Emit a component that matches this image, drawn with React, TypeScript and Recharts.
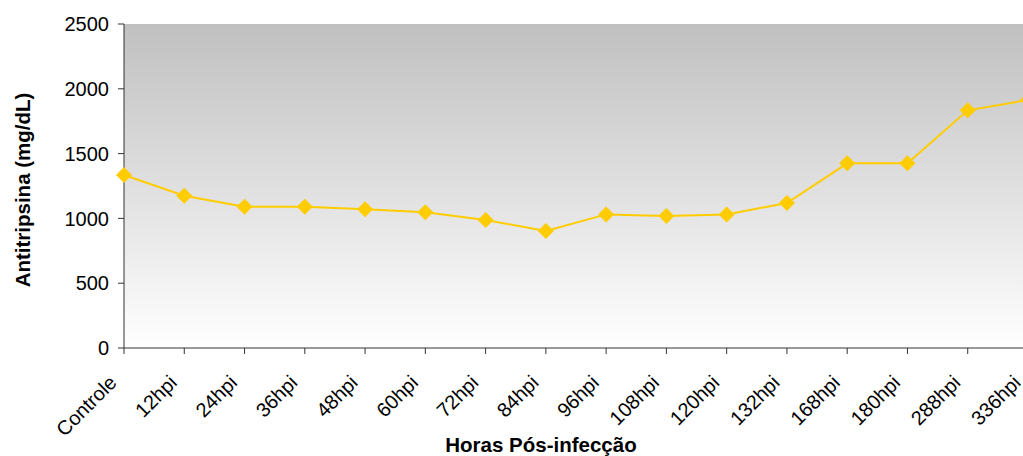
import React from 'react'
import { LineChart, Line, XAxis, YAxis, CartesianGrid } from 'recharts'

const categories = [
  'Controle', '12hpi', '24hpi', '36hpi', '48hpi', '60hpi', '72hpi', '84hpi',
  '96hpi', '108hpi', '120hpi', '132hpi', '168hpi', '180hpi', '288hpi', '336hpi',
]
const antitripsina = [
  1335, 1175, 1090, 1090, 1070, 1047, 988, 903,
  1031, 1019, 1031, 1119, 1425, 1425, 1834, 1914,
]
const yTicks = [0, 500, 1000, 1500, 2000, 2500]

const data = categories.map((c, i) => ({ name: c, value: antitripsina[i] }))

const FONT = '"Liberation Sans", Arial, sans-serif'

function Diamond(props: any) {
  const { cx, cy } = props
  if (cx == null || cy == null) return null
  const r = 8
  return (
    <polygon
      points={`${cx},${cy - r} ${cx + r},${cy} ${cx},${cy + r} ${cx - r},${cy}`}
      fill="#FFCC00"
      stroke="none"
    />
  )
}

function XTick(props: any) {
  const { x, y, payload } = props
  const ax = x - 11
  const ay = y + 23
  return (
    <text
      x={ax}
      y={ay}
      transform={`rotate(-45, ${ax}, ${ay})`}
      textAnchor="end"
      dominantBaseline="central"
      fontSize={20}
      fontFamily={FONT}
      fill="#000"
    >
      {payload.value}
    </text>
  )
}

function YTitle(props: any) {
  const vb = props.viewBox
  const x = vb.x + 22
  const y = vb.y + vb.height / 2 + 4
  return (
    <text
      x={x}
      y={y}
      transform={`rotate(-90, ${x}, ${y})`}
      textAnchor="middle"
      dominantBaseline="central"
      fontSize={20.5}
      fontWeight="bold"
      fontFamily={FONT}
      fill="#000"
    >
      Antitripsina (mg/dL)
    </text>
  )
}

function XTitle(props: any) {
  const vb = props.viewBox
  const x = vb.x + vb.width / 2 - 35
  const y = vb.y + vb.height - 12
  return (
    <text
      x={x}
      y={y}
      textAnchor="middle"
      dominantBaseline="central"
      fontSize={20.5}
      fontWeight="bold"
      fontFamily={FONT}
      fill="#000"
    >
      Horas Pós-infecção
    </text>
  )
}

export default function App() {
  return (
    <div style={{ position: 'absolute', left: 0, top: 0, width: 1023, height: 456, background: '#fff', overflow: 'hidden' }}>
      <LineChart width={1023} height={456} data={data} margin={{ top: 24, right: -5, left: 0, bottom: 0 }}>
        <defs>
          <linearGradient id="plotBg" x1="0" y1="0" x2="0" y2="1">
            <stop offset="0%" stopColor="#c0c0c0" />
            <stop offset="100%" stopColor="#ffffff" />
          </linearGradient>
        </defs>
        <CartesianGrid horizontal={false} vertical={false} fill="url(#plotBg)" fillOpacity={1} />
        <XAxis
          dataKey="name"
          interval={0}
          height={108}
          tickSize={6}
          stroke="#333"
          tickLine={{ stroke: '#333' }}
          tick={<XTick />}
          label={{ content: <XTitle /> } as any}
        />
        <YAxis
          width={124}
          domain={[0, 2500]}
          ticks={yTicks}
          tickSize={6}
          tickMargin={9}
          stroke="#333"
          tick={{ fontSize: 20, fill: '#000', fontFamily: FONT }}
          label={{ content: <YTitle /> } as any}
        />
        <Line
          type="linear"
          dataKey="value"
          stroke="#FFCC00"
          strokeWidth={2}
          dot={<Diamond />}
          activeDot={false}
          isAnimationActive={false}
        />
      </LineChart>
    </div>
  )
}
